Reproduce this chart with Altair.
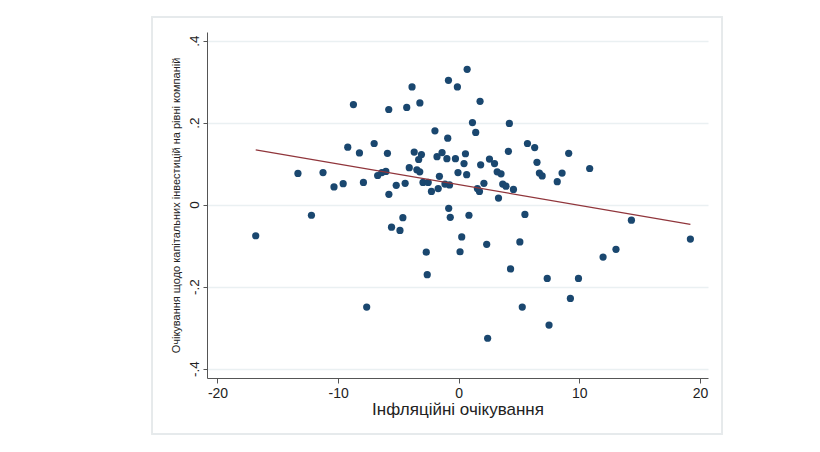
import altair as alt
import pandas as pd

# Inflation expectations (x) and capex expectations (y)
infl = [-16.83, -13.33, -12.21, -11.25, -10.34, -9.58, -9.20, -8.73, -8.23, -7.90,
        -7.63, -7.01, -6.72, -6.38, -6.04, -5.91, -5.80, -5.79, -5.57, -5.18,
        -4.87, -4.63, -4.44, -4.31, -4.10, -3.87, -3.69, -3.47, -3.32, -3.22,
        -3.23, -3.09, -2.96, -2.69, -2.61, -2.53, -2.26, -1.97, -1.80, -1.70,
        -1.60, -1.38, -1.14, -0.98, -0.91, -0.85, -0.83, -0.76, -0.70, -0.27,
        -0.11, -0.06, 0.11, 0.25, 0.44, 0.56, 0.66, 0.70, 0.85, 1.14,
        1.41, 1.55, 1.72, 1.77, 1.82, 2.09, 2.32, 2.40, 2.55, 2.97,
        3.19, 3.30, 3.51, 3.65, 3.92, 4.12, 4.20, 4.30, 4.54, 5.07,
        5.27, 5.49, 5.70, 6.30, 6.49, 6.69, 6.92, 7.34, 7.49, 8.17,
        8.57, 9.12, 9.26, 9.93, 10.86, 11.97, 13.04, 14.32, 19.21]
capex = [-0.076, 0.076, -0.026, 0.078, 0.043, 0.051, 0.140, 0.244, 0.126, 0.054,
         -0.250, 0.149, 0.071, 0.078, 0.081, 0.125, 0.232, 0.025, -0.055, 0.047,
         -0.063, -0.032, 0.052, 0.237, 0.090, 0.287, 0.128, 0.085, 0.110, 0.248,
         0.080, 0.122, 0.054, -0.116, -0.171, 0.054, 0.032, 0.180, 0.117, 0.039,
         0.069, 0.127, 0.050, 0.112, 0.162, 0.303, -0.009, 0.048, -0.031, 0.112,
         0.287, 0.078, -0.115, -0.079, 0.100, 0.124, 0.073, 0.330, -0.026, 0.200,
         0.176, 0.039, 0.032, 0.252, 0.097, 0.052, -0.097, -0.326, 0.111, 0.100,
         0.080, 0.016, 0.075, 0.050, 0.045, 0.130, 0.198, -0.157, 0.037, -0.091,
         -0.250, -0.024, 0.149, 0.139, 0.103, 0.077, 0.070, -0.180, -0.294, 0.056,
         0.077, 0.125, -0.229, -0.180, 0.088, -0.128, -0.109, -0.038, -0.084]

x_ticks = [-20, -10, 0, 10, 20]
x_tick_labels = ["-20", "-10", "0", "10", "20"]
y_ticks = [-0.4, -0.2, 0, 0.2, 0.4]
y_tick_labels = ["-.4", "-.2", "0", ".2", ".4"]

x_title = "Інфляційні очікування"
y_title = "Очікування щодо капітальних інвестицій на рівні компаній"

df = pd.DataFrame({"x": infl, "y": capex})


def make_label_expr(vals, labels):
    return " : ".join(
        [f"abs(datum.value - ({v})) < 1e-6 ? '{l}'" for v, l in zip(vals, labels)]
    ) + " : ''"


FONT = "Liberation Sans"

xscale = alt.Scale(domain=[-20.87, 20.67], nice=False, zero=False)
yscale = alt.Scale(domain=[-0.423, 0.421], nice=False, zero=False)

base = alt.Chart(df)

frame = base.mark_rect(fill=None, stroke="#e6eaec", strokeWidth=1.2).encode(
    x=alt.value(-55), x2=alt.value(515), y=alt.value(-15), y2=alt.value(402)
)

points = base.mark_circle(size=52, color="#1a476f", opacity=1).encode(
    x=alt.X("x:Q", scale=xscale,
            axis=alt.Axis(values=x_ticks, title=x_title, grid=False,
                          labelExpr=make_label_expr(x_ticks, x_tick_labels),
                          labelFontSize=14, titleFontSize=17, tickSize=5,
                          labelPadding=3, titlePadding=1)),
    y=alt.Y("y:Q", scale=yscale,
            axis=alt.Axis(values=y_ticks, title=y_title, grid=True,
                          labelExpr=make_label_expr(y_ticks, y_tick_labels),
                          labelAngle=270, labelAlign="center",
                          labelBaseline="bottom", labelFontSize=13.5,
                          titleFontSize=11, tickSize=4, labelPadding=2,
                          titlePadding=6)),
)

fit = base.transform_regression("x", "y", method="linear").mark_line(
    color="#90353b", strokeWidth=1.2
).encode(x=alt.X("x:Q", scale=xscale), y=alt.Y("y:Q", scale=yscale))

chart = alt.layer(frame, points, fit).properties(
    width=501, height=346,
    autosize=alt.AutoSizeParams(type="none"),
    padding={"left": 199, "top": 24, "right": 90, "bottom": 60},
    background="white",
).configure_view(stroke=None).configure_axis(
    labelFont=FONT, titleFont=FONT, labelColor="#222", titleColor="#222",
    titleFontWeight="normal", domainColor="#555", tickColor="#555",
    gridColor="#eaf0f2", gridWidth=1.5, domainWidth=1, tickWidth=1,
)

chart.save("out.html", embed_options={"renderer": "svg", "actions": False})
